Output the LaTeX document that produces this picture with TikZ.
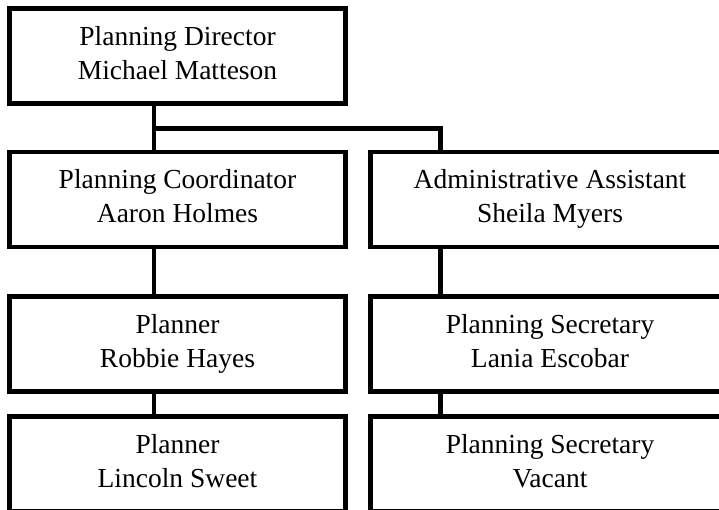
\documentclass[tikz,border=0pt]{standalone}
\usepackage{fontspec}
\setmainfont{Liberation Serif}
\begin{document}
\begin{tikzpicture}[x=1pt,y=-1pt,
  box/.style={draw=black,line width=4.8pt,rectangle,inner sep=0pt,outer sep=0pt,fill=white},
  lbox/.style={box,minimum width=336pt,minimum height=95pt},
  rbox/.style={box,minimum width=359pt,minimum height=95pt},
  txt/.style={anchor=base,inner sep=0pt,font=\fontsize{27.5}{33}\selectfont},
  conn/.style={draw=black,line width=4.8pt,line cap=rect}]
\useasboundingbox (0,0) rectangle (719,510);
\clip (0,0) rectangle (719,510);
\fill[white] (0,0) rectangle (719,510);
% boxes
\node[lbox] (dir) at (177.5,56) {};
\node[lbox] (coord) at (177.5,199.5) {};
\node[rbox] (admin) at (550,199.5) {};
\node[lbox] (plA) at (177.5,344) {};
\node[rbox] (secA) at (550,344) {};
\node[lbox] (plB) at (177.5,464) {};
\node[rbox] (secB) at (550,464) {};
% connector columns
\coordinate (lx) at (154,0);
\coordinate (rx) at (440.5,0);
\coordinate (hy) at (0,128.5);
\coordinate (bend) at (rx |- hy);
\draw[conn] (dir.south -| lx) -- (coord.north -| lx);
\draw[conn] (lx |- hy) -- (bend) -- (admin.north -| rx);
\draw[conn] (coord.south -| lx) -- (plA.north -| lx);
\draw[conn] (admin.south -| rx) -- (secA.north -| rx);
\draw[conn] (plA.south -| lx) -- (plB.north -| lx);
\draw[conn] (secA.south -| rx) -- (secB.north -| rx);
% texts
\node[txt] (dir1) at ([yshift=-37.5pt]dir.north) {Planning Director};
\node[txt] (dir2) at ([yshift=-71pt]dir.north) {Michael Matteson};
\node[txt] (coord1) at ([yshift=-37pt]coord.north) {Planning Coordinator};
\node[txt] (coord2) at ([yshift=-71pt]coord.north) {Aaron Holmes};
\node[txt] (admin1) at ([yshift=-37pt]admin.north) {Administrative Assistant};
\node[txt] (admin2) at ([yshift=-70.5pt]admin.north) {Sheila Myers};
\node[txt] (plA1) at ([yshift=-37pt]plA.north) {Planner};
\node[txt] (plA2) at ([yshift=-71pt]plA.north) {Robbie Hayes};
\node[txt] (secA1) at ([yshift=-37pt]secA.north) {Planning Secretary};
\node[txt] (secA2) at ([yshift=-71pt]secA.north) {Lania Escobar};
\node[txt] (plB1) at ([yshift=-37pt]plB.north) {Planner};
\node[txt] (plB2) at ([yshift=-71pt]plB.north) {Lincoln Sweet};
\node[txt] (secB1) at ([yshift=-37pt]secB.north) {Planning Secretary};
\node[txt] (secB2) at ([yshift=-71pt]secB.north) {Vacant};
\end{tikzpicture}
\end{document}
